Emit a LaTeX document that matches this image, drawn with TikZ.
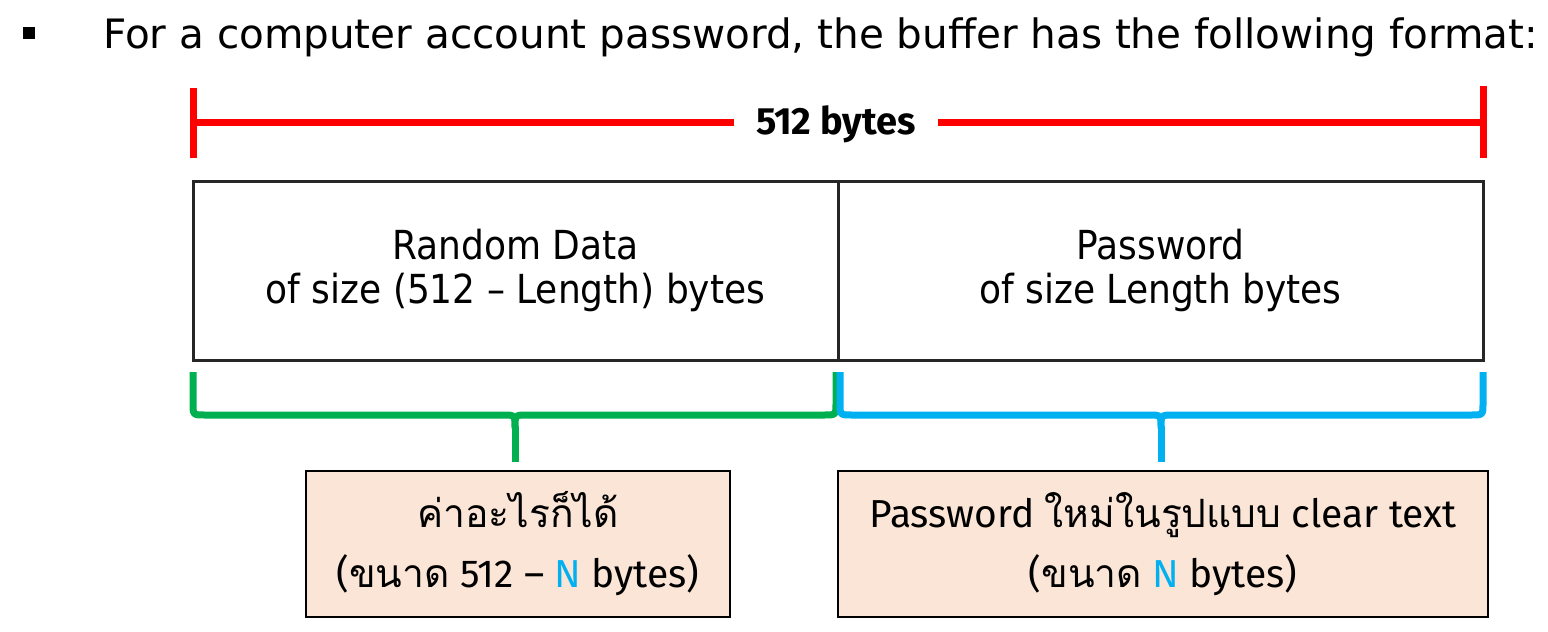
\documentclass[tikz,border=0pt]{standalone}
\usepackage{fontspec}
\setmainfont{DejaVu Sans}
\newfontfamily\titlefont{DejaVu Sans}
\newfontfamily\cellfont{DejaVu Sans Condensed}
\newfontfamily\latfont{Fira Sans}
\newfontfamily\thaifont[Script=Thai]{Loma}
\definecolor{rred}{HTML}{FF0000}
\definecolor{bgreen}{HTML}{00B050}
\definecolor{bblue}{HTML}{00B0F0}
\definecolor{peach}{HTML}{FBE5D6}
\definecolor{frame}{HTML}{262626}
\tikzset{
  redline/.style={draw=rred, line width=7},
  brace/.style={line width=7, line join=round},
  cell/.style={draw=frame, line width=3, minimum width=645, minimum height=179, inner sep=0, align=center,
    font=\cellfont\fontsize{40}{44}\selectfont},
  note/.style={draw=black, line width=2.5, fill=peach, minimum height=146, inner sep=0, align=center,
    font=\latfont\fontsize{39}{60}\selectfont},
}
\begin{document}
\begin{tikzpicture}[x=1pt,y=-1pt]
\useasboundingbox (0,0) rectangle (1548,632);
% title
\node[fill=black, minimum size=12, inner sep=0] (bul) at (29,33) {};
\node[anchor=base west, inner sep=0, font=\titlefont\fontsize{40.5}{48}\selectfont] (title) at (103,48)
  {For a computer account password, the buffer has the following format:};
% size dimension
\node[inner xsep=22, inner ysep=0, font=\latfont\bfseries\fontsize{38}{40}\selectfont] (size) at (836,124) {512 bytes};
\coordinate (lt) at (193,88); \coordinate (lb) at (193,158);
\coordinate (rt) at (1483,86); \coordinate (rb) at (1483,158);
\coordinate (lm) at (193,122); \coordinate (rm) at (1483,122);
\draw[redline] (lt) -- (lb);
\draw[redline] (rt) -- (rb);
\draw[redline] (lm) -- (size.west |- lm);
\draw[redline] (size.east |- rm) -- (rm);
% main cells
\node[cell] (rand) at (515.5,270.5) {Random Data\\of size (512 – Length) bytes};
\node[cell] (pass) at (1160.5,270.5) {Password\\of size Length bytes};
% notes
\node[note, minimum width=424] (n1) at (518,544)
  {{\thaifont ค่าอะไรก็ได้}\\({\thaifont ขนาด} 512 – {\color{bblue}N} bytes)};
\node[note, minimum width=650] (n2) at (1163,544)
  {Password {\thaifont ใหม่ในรูปแบบ} clear text\\({\thaifont ขนาด} {\color{bblue}N} bytes)};
% braces
\coordinate (gt) at (515,462);
\draw[brace, draw=bgreen] (193,372) -- (193,403) .. controls (193,415) .. (205,415) -- (503,415)
  .. controls (515,415) .. (515,428) .. controls (515,415) .. (527,415) -- (824,415)
  .. controls (836,415) .. (836,403) -- (836,372);
\draw[brace, draw=bgreen] (515,426) -- (gt);
\coordinate (bt) at (1161,462);
\draw[brace, draw=bblue] (840,372) -- (840,403) .. controls (840,415) .. (852,415) -- (1149,415)
  .. controls (1161,415) .. (1161,428) .. controls (1161,415) .. (1173,415) -- (1471,415)
  .. controls (1483,415) .. (1483,403) -- (1483,372);
\draw[brace, draw=bblue] (1161,426) -- (bt);
\end{tikzpicture}
\end{document}
